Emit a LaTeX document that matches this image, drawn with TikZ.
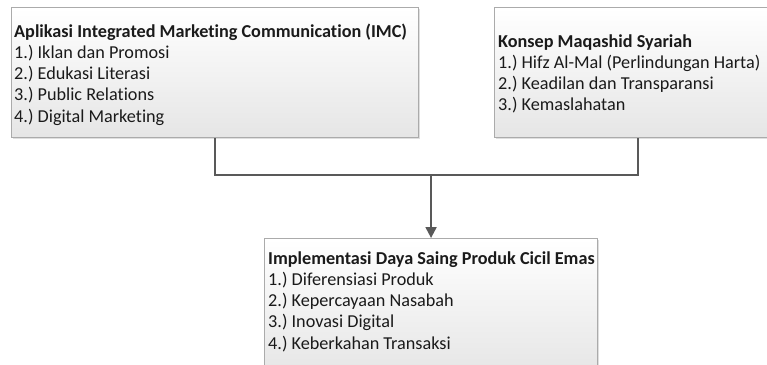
\documentclass[tikz,border=0pt]{standalone}
\usepackage{fontspec}
\setmainfont{Carlito}[Ligatures=NoCommon]
\usetikzlibrary{shadows,arrows.meta}
\definecolor{linec}{HTML}{595959}
\definecolor{boxline}{HTML}{ABABAB}
\definecolor{txtc}{HTML}{1A1A1A}
\tikzset{
  box/.style={draw=boxline, line width=1.1pt, rectangle, anchor=north west,
    top color=white, bottom color=black!10, inner sep=0pt,
    drop shadow={opacity=0.25, shadow xshift=1.2pt, shadow yshift=-1.2pt}},
  txt/.style={anchor=base west, inner sep=0pt, text=txtc,
    font=\frenchspacing\fontsize{18.2}{21.3}\selectfont},
  conn/.style={draw=linec, line width=2pt},
}
\newcommand{\itemlist}[1]{\begin{tabular}[t]{@{}l@{}}#1\end{tabular}}
\begin{document}
\begin{tikzpicture}[x=1pt,y=-1pt]
\useasboundingbox (0,0) rectangle (767,364);
\clip (0,0) rectangle (767,364);
\fill[white] (0,0) rectangle (767,364);
\node[box, minimum width=407pt, minimum height=130pt] (imc) at (11,7) {};
\node[box, minimum width=286pt, minimum height=130pt] (maq) at (494,7) {};
\node[box, minimum width=333pt, minimum height=136pt] (impl) at (264,238) {};
\node[txt] (imctext) at (14,37) {\itemlist{%
\textbf{Aplikasi Integrated Marketing Communication (IMC)}\\
1.) Iklan dan Promosi\\
2.) Edukasi Literasi\\
3.) Public Relations\\
4.) Digital Marketing}};
\node[txt] (maqtext) at (498,47) {\itemlist{%
\textbf{Konsep Maqashid Syariah}\\
1.) Hifz Al-Mal (Perlindungan Harta)\\
2.) Keadilan dan Transparansi\\
3.) Kemaslahatan}};
\node[txt] (impltext) at (268,264) {\itemlist{%
\textbf{Implementasi Daya Saing Produk Cicil Emas}\\
1.) Diferensiasi Produk\\
2.) Kepercayaan Nasabah\\
3.) Inovasi Digital\\
4.) Keberkahan Transaksi}};
\coordinate (join) at (impl.north |- 0,175);
\draw[conn] (imc.south) |- (join) -| (maq.south);
\draw[conn, -{Triangle[width=11pt,length=11pt]}] (join) -- (impl.north);
\end{tikzpicture}
\end{document}
